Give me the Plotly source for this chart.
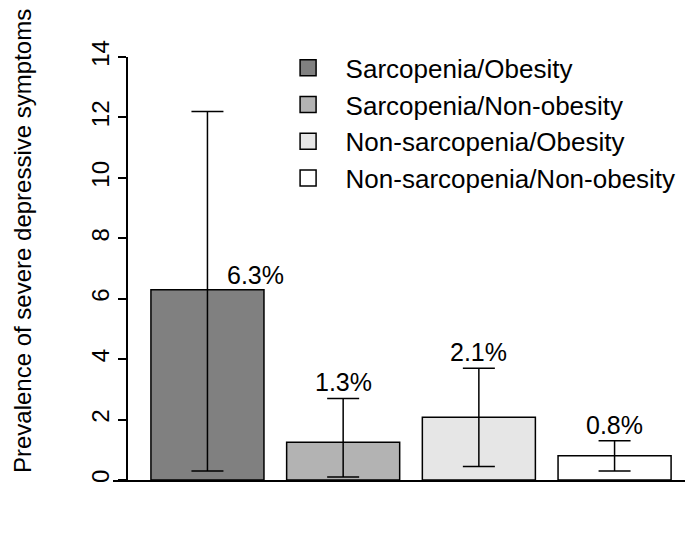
import plotly.graph_objects as go

# prevalence of severe depressive symptoms (%) with 95% CI
groups = ['Sarcopenia/Obesity', 'Sarcopenia/Non-obesity',
          'Non-sarcopenia/Obesity', 'Non-sarcopenia/Non-obesity']
prevalence = [6.3, 1.25, 2.08, 0.8]
ci_low = [0.3, 0.1, 0.45, 0.3]
ci_high = [12.2, 2.7, 3.7, 1.3]
labels = ['6.3%', '1.3%', '2.1%', '0.8%']
colors = ['#808080', '#b3b3b3', '#e6e6e6', '#ffffff']

FONT = 'Liberation Sans, Arial, sans-serif'

fig = go.Figure()
for i, g in enumerate(groups):
    fig.add_trace(go.Bar(
        x=[i], y=[prevalence[i]], name=g, width=0.833, showlegend=False,
        marker=dict(color=colors[i], line=dict(color='black', width=1.5)),
        error_y=dict(type='data', symmetric=False,
                     array=[ci_high[i] - prevalence[i]],
                     arrayminus=[prevalence[i] - ci_low[i]],
                     color='black', thickness=1.5, width=16),
    ))
    # legend entry with a bigger square than the default bar swatch
    fig.add_trace(go.Scatter(
        x=[None], y=[None], mode='markers', name=g,
        marker=dict(symbol='square', size=16, color=colors[i],
                    line=dict(color='black', width=1.5)),
    ))

# percentage labels: above the CI, except the first one sits next to the whisker
for i, lab in enumerate(labels):
    if i == 0:
        fig.add_annotation(x=i, y=prevalence[i], text=lab, showarrow=False,
                           yanchor='bottom', xshift=48, yshift=-1)
    else:
        fig.add_annotation(x=i, y=ci_high[i], text=lab, showarrow=False,
                           yanchor='bottom', yshift=0)
fig.update_annotations(font=dict(family=FONT, size=25, color='black'))

# y title placed by hand (R centres it a bit higher than the axis)
fig.add_annotation(text='Prevalence of severe depressive symptoms',
                   xref='paper', yref='paper', x=-0.159, y=0.565,
                   xanchor='center', yanchor='middle',
                   textangle=-90, showarrow=False,
                   font=dict(family=FONT, size=24, color='black'))

fig.update_layout(
    width=692, height=525,
    margin=dict(l=105, r=15, t=49, b=53, autoexpand=False),
    paper_bgcolor='white', plot_bgcolor='white',
    font=dict(family=FONT, size=24, color='black'),
    showlegend=True,
    legend=dict(x=0.2755, y=1.03, xanchor='left', yanchor='top',
                font=dict(size=26), itemwidth=65, bgcolor='rgba(0,0,0,0)'),
    xaxis=dict(range=[-0.696, 3.519], showticklabels=False, ticks='',
               showgrid=False, zeroline=False, showline=True,
               linecolor='black', linewidth=1.5),
    yaxis=dict(range=[0, 14], dtick=2, tickangle=-90, anchor='free',
               position=0.0245, showgrid=False, zeroline=False,
               showline=True, linecolor='black', linewidth=1.5,
               ticks='outside', ticklen=8, tickwidth=1.5, tickcolor='black',
               automargin=False),
)

fig.write_html("out.html")
